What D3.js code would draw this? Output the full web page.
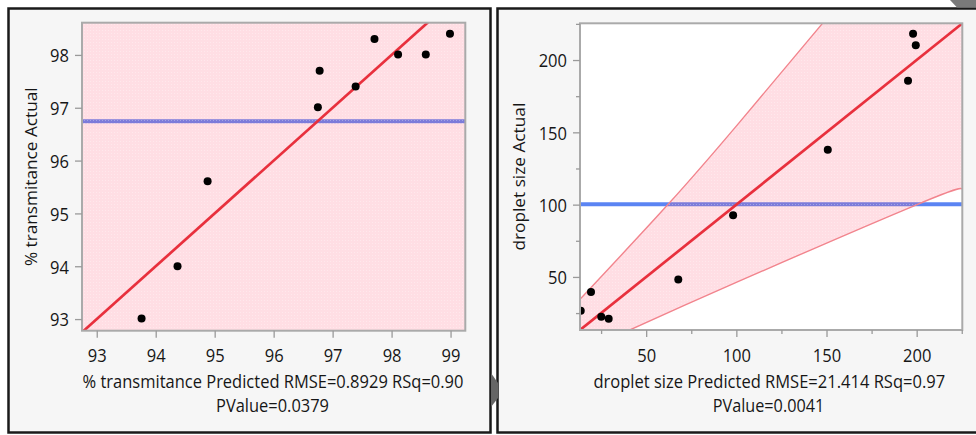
<!DOCTYPE html>
<html>
<head>
<meta charset="utf-8">
<script src="https://cdn.jsdelivr.net/npm/d3@7"></script>
<style>
  body { margin: 0; background: #fff; }
  svg { display: block; }
  text { font-family: "Open Sans", "Noto Sans", sans-serif; fill: #161616; }
</style>
</head>
<body>
<svg id="chart" width="976" height="435"></svg>
<script>
// ---- % transmitance: actual by predicted ----
const transPredicted = [93.76, 94.37, 94.88, 96.75, 96.78, 97.39, 97.71, 98.11, 98.58, 98.99];
const transActual    = [93.01, 94.00, 95.61, 97.01, 97.70, 97.40, 98.30, 98.01, 98.01, 98.40];
const transTicksX = [93, 94, 95, 96, 97, 98, 99];
const transTicksY = [93, 94, 95, 96, 97, 98];
const transStats = ["% transmitance Predicted RMSE=0.8929 RSq=0.90", "PValue=0.0379"];
const transYTitle = "% transmitance Actual";

// ---- droplet size: actual by predicted ----
const dropPredicted = [13.7, 19.4, 25.1, 29.2, 67.8, 98.2, 150.7, 195.2, 198.0, 199.5];
const dropActual    = [26.6, 39.6, 22.5, 21.1, 48.3, 92.6, 137.9, 185.6, 218.1, 210.3];
const dropTicks = [50, 100, 150, 200];
const dropMinorTicks = [25, 75, 125, 175, 225];
// confidence curves around the fit
const dropBandUpperX = [13.3, 62.3, 100.9, 147.9];
const dropBandUpperY = [34.5, 100.4, 155.7, 225.5];
const dropBandLowerX = [40.9, 100.9, 200.9, 225.2];
const dropBandLowerY = [13.3, 46.7, 100.4, 110.8];
const dropStats = ["droplet size Predicted RMSE=21.414 RSq=0.97", "PValue=0.0041"];
const dropYTitle = "droplet size Actual";

const SX = 0.87;           // horizontal glyph squeeze
const svg = d3.select("#chart");
const defs = svg.append("defs");

// translucent stippled fill for the confidence region
const pat = defs.append("pattern").attr("id", "bandFill")
  .attr("width", 3).attr("height", 3).attr("patternUnits", "userSpaceOnUse");
pat.append("rect").attr("width", 3).attr("height", 3).attr("fill", "rgba(255,88,118,0.2)");
pat.append("rect").attr("width", 1).attr("height", 1).attr("fill", "rgba(255,255,255,0.3)");

// report frames
svg.append("rect").attr("x", 8.5).attr("y", 8.5).attr("width", 482).attr("height", 424)
  .attr("fill", "#f6f6f6").attr("stroke", "#1a1a1a").attr("stroke-width", 2.5);
svg.append("rect").attr("x", 497.5).attr("y", 8.5).attr("width", 500).attr("height", 424)
  .attr("fill", "#f6f6f6").attr("stroke", "#1a1a1a").attr("stroke-width", 2.5);

// horizontal text squeezed to a given width
function fitText(g, cx, y, str, width, size) {
  const t = g.append("text").attr("text-anchor", "middle").attr("font-size", size).text(str);
  const natural = t.node().getComputedTextLength();
  t.attr("transform", `translate(${cx},${y}) scale(${width / natural},1)`);
  return t;
}

function panel(o) {
  const g = svg.append("g");
  const [x0, x1] = o.x.range();
  const [y0, y1] = o.y.range();
  const clipId = o.id + "-clip";
  defs.append("clipPath").attr("id", clipId).append("rect")
    .attr("x", x0).attr("y", y1).attr("width", x1 - x0).attr("height", y0 - y1);

  g.append("rect").attr("x", x0).attr("y", y1).attr("width", x1 - x0).attr("height", y0 - y1)
    .attr("fill", "#fff");

  const plot = g.append("g").attr("clip-path", `url(#${clipId})`);

  // mean of actual
  const mean = d3.mean(o.actual);
  plot.append("line").attr("x1", x0).attr("x2", x1)
    .attr("y1", o.y(mean)).attr("y2", o.y(mean))
    .attr("stroke", "#5b84f3").attr("stroke-width", 4);

  // confidence region
  o.band(plot);

  // fit line (actual = predicted)
  const xd = o.x.domain(), yd = o.y.domain();
  const lo = Math.min(xd[0], yd[0]), hi = Math.max(xd[1], yd[1]);
  plot.append("line")
    .attr("x1", o.x(lo)).attr("y1", o.y(lo)).attr("x2", o.x(hi)).attr("y2", o.y(hi))
    .attr("stroke", "#e8303d").attr("stroke-width", 2.7);

  // observations
  plot.selectAll("circle").data(d3.zip(o.pred, o.actual)).join("circle")
    .attr("cx", d => o.x(d[0])).attr("cy", d => o.y(d[1])).attr("r", 4)
    .attr("fill", "#000");

  // plot frame
  g.append("rect").attr("x", x0).attr("y", y1).attr("width", x1 - x0).attr("height", y0 - y1)
    .attr("fill", "none").attr("stroke", "#aaaaaa").attr("stroke-width", 2);

  // x axis
  const ax = g.append("g").attr("transform", `translate(0,${y0})`)
    .call(d3.axisBottom(o.x).tickValues(o.xTicks).tickSize(7).tickFormat(d3.format("d")));
  ax.attr("font-size", null).attr("font-family", null);
  ax.select(".domain").remove();
  ax.selectAll("line").attr("stroke", "#9a9a9a").attr("stroke-width", 1.3);
  ax.selectAll("text").attr("y", 362.5 - y0).attr("dy", null)
    .attr("transform", `scale(${SX},1)`).attr("font-size", 19);

  // y axis
  const ay = g.append("g").attr("transform", `translate(${x0},0)`)
    .call(d3.axisLeft(o.y).tickValues(o.yTicks).tickSize(7).tickFormat(d3.format("d")));
  ay.attr("font-size", null).attr("font-family", null);
  ay.select(".domain").remove();
  ay.selectAll("line").attr("stroke", "#9a9a9a").attr("stroke-width", 1.3);
  ay.selectAll("text").attr("x", -13 / SX).attr("dy", "0.36em")
    .attr("transform", `scale(${SX},1)`).attr("font-size", 19);

  if (o.minor) {
    const mx = g.append("g").attr("transform", `translate(0,${y0})`)
      .call(d3.axisBottom(o.x).tickValues(o.minor).tickSize(4).tickFormat(""));
    mx.select(".domain").remove();
    mx.selectAll("line").attr("stroke", "#9a9a9a").attr("stroke-width", 1.3);
    const my = g.append("g").attr("transform", `translate(${x0},0)`)
      .call(d3.axisLeft(o.y).tickValues(o.minor).tickSize(4).tickFormat(""));
    my.select(".domain").remove();
    my.selectAll("line").attr("stroke", "#9a9a9a").attr("stroke-width", 1.3);
  }

  // axis titles
  o.stats.forEach((s, i) => {
    fitText(g, o.statsX[i], i === 0 ? 387.5 : 412, s, o.statsLen[i], 18.5);
  });
  const yt = g.append("text").attr("text-anchor", "middle").attr("font-size", 18.5).text(o.yTitle);
  const natural = yt.node().getComputedTextLength();
  yt.attr("transform",
    `translate(${o.yTitleX},${(y0 + y1) / 2}) scale(${SX},1) rotate(-90) scale(${o.yTitleLen / natural},1)`);
}

// left report: the confidence region spans the whole frame
panel({
  id: "trans",
  x: d3.scaleLinear().domain([92.75, 99.25]).range([82, 465.3]),
  y: d3.scaleLinear().domain([92.78, 98.61]).range([330.7, 22.7]),
  pred: transPredicted, actual: transActual,
  xTicks: transTicksX, yTicks: transTicksY,
  stats: transStats, statsX: [273, 272.5], statsLen: [381, 113],
  yTitle: transYTitle, yTitleX: 37, yTitleLen: 179,
  band(plot) {
    const [x0, x1] = this.x.range(), [y0, y1] = this.y.range();
    plot.append("rect").attr("x", x0).attr("y", y1).attr("width", x1 - x0).attr("height", y0 - y1)
      .attr("fill", "url(#bandFill)");
  }
});

// right report: curved confidence region
panel({
  id: "drop",
  x: d3.scaleLinear().domain([13.3, 225.3]).range([580, 962.3]),
  y: d3.scaleLinear().domain([13.3, 225.4]).range([330, 23.3]),
  pred: dropPredicted, actual: dropActual,
  xTicks: dropTicks, yTicks: dropTicks, minor: dropMinorTicks,
  stats: dropStats, statsX: [769.3, 768.5], statsLen: [352, 111.6],
  yTitle: dropYTitle, yTitleX: 525, yTitleLen: 148,
  band(plot) {
    const x = this.x, y = this.y;
    const curve = d3.line().x(d => x(d[0])).y(d => y(d[1])).curve(d3.curveNatural);
    const upper = d3.zip(dropBandUpperX, dropBandUpperY);
    const lower = d3.zip(dropBandLowerX, dropBandLowerY);
    const xd = x.domain(), yd = y.domain();
    const area = curve(upper)
      + `L${x(xd[1])},${y(yd[1]) - 2}`
      + curve(lower.slice().reverse()).replace(/^M/, "L")
      + `L${x(xd[0]) - 2},${y(yd[0]) + 2}Z`;
    plot.append("path").attr("d", area).attr("fill", "url(#bandFill)");
    [upper, lower].forEach(pts => {
      plot.append("path").attr("d", curve(pts)).attr("fill", "none")
        .attr("stroke", "#f2848d").attr("stroke-width", 1.4);
    });
  }
});

// window chrome between and above the reports
svg.append("path").attr("d", "M491,373 L498,383 L498,398 L491,407 Z").attr("fill", "#666");
svg.append("path").attr("d", "M950,0 L976,0 L976,7.5 L957,7.5 Z").attr("fill", "#7a7a7a");
</script>
</body>
</html>
